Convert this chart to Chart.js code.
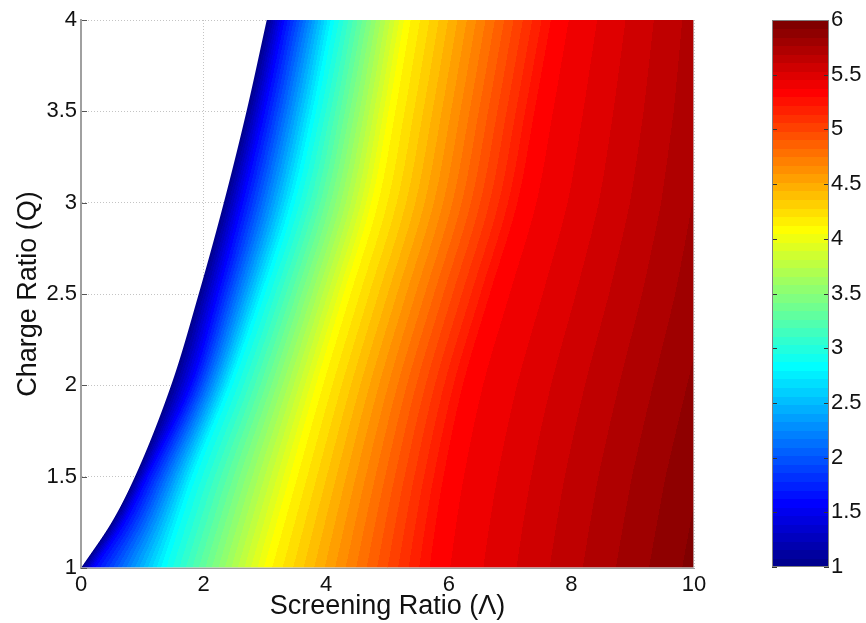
<!DOCTYPE html>
<html>
<head>
<meta charset="utf-8">
<title>Charge ratio vs screening ratio</title>
<script src="https://cdn.jsdelivr.net/npm/chart.js@4.4.1/dist/chart.umd.min.js"></script>
<style>
  html, body { margin: 0; padding: 0; background: #fff; }
  #wrap { position: relative; width: 866px; height: 623px; }
  #wrap canvas { position: absolute; left: 0; top: 0; }
</style>
</head>
<body>
<div id="wrap">
  <canvas id="fieldChart" width="866" height="623"></canvas>
  <canvas id="barChart" width="866" height="623"></canvas>
</div>
<script>
const qRows = [1, 1.25, 1.5, 2, 2.5, 3, 3.5, 4];

// Screening ratio at which each colour level is reached, one entry per row
const lamEdge   = [0.00, 0.50, 0.88, 1.47, 1.92, 2.33, 2.70, 3.03];  // level 1 (edge of filled area)
const lamBlue   = [0.20, 0.70, 1.07, 1.78, 2.22, 2.62, 2.98, 3.30];  // level 1.59
const lamCyan   = [1.34, 1.58, 1.83, 2.43, 2.96, 3.45, 3.80, 4.10];  // level 2.84
const lamYellow = [3.04, 3.25, 3.46, 3.88, 4.33, 4.78, 5.06, 5.31];  // level 4.09
const lamRed    = [5.78, 5.88, 6.00, 6.31, 6.75, 7.20, 7.48, 7.75];  // level 5.34
const levelValues = [1, 1.59, 2.84, 4.09, 5.34];

// Value at the right edge (Λ = 10), per row
const valueAtTen = [5.95, 5.93, 5.91, 5.86, 5.81, 5.77, 5.74, 5.72];

// Axis ticks
const xTicks = [0, 2, 4, 6, 8, 10];
const yTicks = [1, 1.5, 2, 2.5, 3, 3.5, 4];
const barTicks = [1, 1.5, 2, 2.5, 3, 3.5, 4, 4.5, 5, 5.5, 6];
const colorMin = 1, colorMax = 6;

const FONT = '"Liberation Sans", Arial, Helvetica, sans-serif';
const TEXT = '#111';

// ── MATLAB style jet colormap ────────────────────────────────
function jet(m) {
  const n = Math.ceil(m / 4);
  const u = [];
  for (let i = 1; i <= n; i++) u.push(i / n);
  for (let i = 1; i < n; i++) u.push(1);
  for (let i = n; i >= 1; i--) u.push(i / n);
  const g0 = Math.ceil(n / 2) - (m % 4 === 1 ? 1 : 0);
  const cols = Array.from({ length: m }, () => [0, 0, 0]);
  u.forEach((v, k) => {
    const g = g0 + k + 1, r = g + n, b = g - n;
    if (g >= 1 && g <= m) cols[g - 1][1] = v;
    if (r >= 1 && r <= m) cols[r - 1][0] = v;
    if (b >= 1 && b <= m) cols[b - 1][2] = v;
  });
  return cols.map(c => c.map(v => Math.round(v * 255)));
}
const JET = jet(64);

function colorIndex(z) {
  const i = Math.floor((z - colorMin) / (colorMax - colorMin) * JET.length);
  return Math.max(0, Math.min(JET.length - 1, i));
}

// ── Smooth (monotone cubic) run of each contour across the rows ──
function tangents(xs, ys) {
  const n = xs.length, d = [], m = new Array(n);
  for (let i = 0; i < n - 1; i++) d.push((ys[i + 1] - ys[i]) / (xs[i + 1] - xs[i]));
  m[0] = d[0]; m[n - 1] = d[n - 2];
  for (let i = 1; i < n - 1; i++) m[i] = d[i - 1] * d[i] <= 0 ? 0 : (d[i - 1] + d[i]) / 2;
  for (let i = 0; i < n - 1; i++) {
    if (d[i] === 0) { m[i] = m[i + 1] = 0; continue; }
    const a = m[i] / d[i], b = m[i + 1] / d[i], s = a * a + b * b;
    if (s > 9) { const t = 3 / Math.sqrt(s); m[i] = t * a * d[i]; m[i + 1] = t * b * d[i]; }
  }
  return m;
}

const isoRows = [lamEdge, lamBlue, lamCyan, lamYellow, lamRed];
const isoTangents = isoRows.map(r => tangents(qRows, r));

function rowAt(q) {
  let i = 0;
  while (i < qRows.length - 2 && q > qRows[i + 1]) i++;
  const h = qRows[i + 1] - qRows[i];
  const t = Math.max(0, Math.min(1, (q - qRows[i]) / h));
  const t2 = t * t, t3 = t2 * t;
  const h00 = 2 * t3 - 3 * t2 + 1, h10 = t3 - 2 * t2 + t, h01 = -2 * t3 + 3 * t2, h11 = t3 - t2;
  return {
    lams: isoRows.map((r, k) => h00 * r[i] + h10 * h * isoTangents[k][i] + h01 * r[i + 1] + h11 * h * isoTangents[k][i + 1]),
    zEnd: valueAtTen[i] + (valueAtTen[i + 1] - valueAtTen[i]) * t
  };
}

function valueAt(lam, row) {
  const L = row.lams;
  if (lam < L[0]) return levelValues[0];
  for (let k = 0; k < L.length - 1; k++) {
    if (lam <= L[k + 1]) {
      return levelValues[k] + (levelValues[k + 1] - levelValues[k]) * (lam - L[k]) / (L[k + 1] - L[k]);
    }
  }
  const last = L.length - 1;
  return levelValues[last] + (row.zEnd - levelValues[last]) * (lam - L[last]) / (10 - L[last]);
}

// ── Plugin: filled contour field ─────────────────────────────
const fieldPlugin = {
  id: 'field',
  beforeDatasetsDraw(chart) {
    const { ctx, chartArea: a, scales: { x, y } } = chart;
    const w = Math.round(a.right - a.left), h = Math.round(a.bottom - a.top);

    // inward tick marks on the left axis (under the field)
    ctx.save();
    ctx.strokeStyle = '#555';
    ctx.lineWidth = 1;
    yTicks.forEach(v => {
      const py = Math.round(y.getPixelForValue(v)) + 0.5;
      ctx.beginPath();
      ctx.moveTo(a.left, py);
      ctx.lineTo(a.left + 6, py);
      ctx.stroke();
    });
    ctx.restore();

    const off = document.createElement('canvas');
    off.width = w; off.height = h;
    const octx = off.getContext('2d');
    const img = octx.createImageData(w, h);
    const dl = Math.abs(x.getValueForPixel(a.left + 1) - x.getValueForPixel(a.left));
    for (let py = 0; py < h; py++) {
      const row = rowAt(y.getValueForPixel(a.top + py + 0.5));
      for (let px = 0; px < w; px++) {
        const lam = x.getValueForPixel(a.left + px + 0.5);
        const cover = Math.max(0, Math.min(1, (lam - row.lams[0]) / dl + 0.5));
        if (cover <= 0) continue;
        const c = JET[colorIndex(valueAt(lam, row))];
        const o = (py * w + px) * 4;
        img.data[o] = c[0]; img.data[o + 1] = c[1]; img.data[o + 2] = c[2];
        img.data[o + 3] = Math.round(cover * 255);
      }
    }
    octx.putImageData(img, 0, 0);
    ctx.drawImage(off, a.left, a.top);
  },
  afterDatasetsDraw(chart) {
    const { ctx, chartArea: a } = chart;
    ctx.save();
    ctx.strokeStyle = 'rgba(205,205,205,0.7)';
    ctx.lineWidth = 1;
    ctx.beginPath();
    ctx.moveTo(a.right - 0.5, a.top); ctx.lineTo(a.right - 0.5, a.bottom);
    ctx.moveTo(a.left, a.bottom - 0.5); ctx.lineTo(a.right, a.bottom - 0.5);
    ctx.stroke();
    ctx.strokeStyle = '#a0a0a0';
    ctx.lineWidth = 2;
    ctx.beginPath();
    ctx.moveTo(a.left, a.top); ctx.lineTo(a.left, a.bottom);
    ctx.stroke();
    ctx.restore();
  }
};

// ── Plugin: colour bar ───────────────────────────────────────
const barPlugin = {
  id: 'colorbar',
  beforeDatasetsDraw(chart) {
    const { ctx, chartArea: a, scales: { y } } = chart;
    const step = (colorMax - colorMin) / JET.length;
    JET.forEach((c, i) => {
      const y0 = y.getPixelForValue(colorMin + i * step);
      const y1 = y.getPixelForValue(colorMin + (i + 1) * step);
      ctx.fillStyle = `rgb(${c[0]},${c[1]},${c[2]})`;
      ctx.fillRect(a.left, Math.floor(y1), a.right - a.left, Math.ceil(y0) - Math.floor(y1));
    });
    ctx.save();
    ctx.strokeStyle = '#333';
    ctx.lineWidth = 1;
    barTicks.forEach(v => {
      const py = Math.round(y.getPixelForValue(v)) + 0.5;
      ctx.beginPath();
      ctx.moveTo(a.left, py); ctx.lineTo(a.left + 5, py);
      ctx.moveTo(a.right - 5, py); ctx.lineTo(a.right, py);
      ctx.stroke();
    });
    ctx.strokeStyle = '#808080';
    ctx.strokeRect(a.left + 0.5, a.top + 0.5, a.right - a.left - 1, a.bottom - a.top - 1);
    ctx.restore();
  }
};

const plainLabel = v => String(v);

// ── Main chart ───────────────────────────────────────────────
new Chart(document.getElementById('fieldChart'), {
  type: 'scatter',
  data: { datasets: [] },
  options: {
    responsive: false,
    animation: false,
    layout: { padding: { left: 0, top: 20, right: 172, bottom: 0 } },
    plugins: { legend: { display: false }, tooltip: { enabled: false } },
    scales: {
      x: {
        type: 'linear', min: 0, max: 10,
        afterBuildTicks: s => { s.ticks = xTicks.map(v => ({ value: v })); },
        afterFit: s => { s.height = 55; },
        grid: { color: '#c4c4c4', lineWidth: 1, drawTicks: false },
        border: { display: true, color: '#a0a0a0', width: 1, dash: [1, 2] },
        ticks: { color: TEXT, font: { family: FONT, size: 22 }, padding: 4, maxRotation: 0, callback: plainLabel },
        title: { display: true, text: 'Screening Ratio (Λ)', color: TEXT,
                 font: { family: FONT, size: 27 }, padding: { top: 0, bottom: 0 } }
      },
      y: {
        type: 'linear', min: 1, max: 4,
        afterBuildTicks: s => { s.ticks = yTicks.map(v => ({ value: v })); },
        afterFit: s => { s.width = 81; },
        grid: { color: '#c4c4c4', lineWidth: 1, drawTicks: false },
        border: { display: true, color: '#a0a0a0', width: 2, dash: [1, 2] },
        ticks: { color: TEXT, font: { family: FONT, size: 22 }, padding: 4, callback: plainLabel },
        title: { display: true, text: 'Charge Ratio (Q)', color: TEXT,
                 font: { family: FONT, size: 27 }, padding: { top: 12, bottom: 0 } }
      }
    }
  },
  plugins: [fieldPlugin]
});

// ── Colour bar chart ─────────────────────────────────────────
new Chart(document.getElementById('barChart'), {
  type: 'scatter',
  data: { datasets: [] },
  options: {
    responsive: false,
    animation: false,
    layout: { padding: { left: 772, top: 20, right: 0, bottom: 56 } },
    plugins: { legend: { display: false }, tooltip: { enabled: false } },
    scales: {
      x: { type: 'linear', min: 0, max: 1, display: false },
      y: {
        type: 'linear', position: 'right', min: colorMin, max: colorMax,
        afterBuildTicks: s => { s.ticks = barTicks.map(v => ({ value: v })); },
        afterFit: s => { s.width = 37; },
        grid: { display: false, drawTicks: false },
        border: { display: false },
        ticks: { color: TEXT, font: { family: FONT, size: 22 }, padding: 2, callback: plainLabel }
      }
    }
  },
  plugins: [barPlugin]
});
</script>
</body>
</html>
